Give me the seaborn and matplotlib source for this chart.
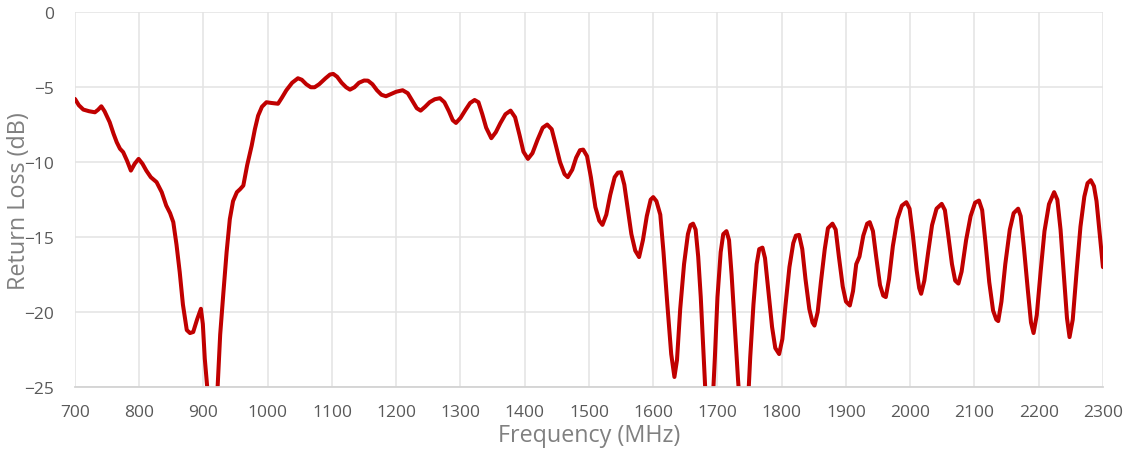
import numpy as np
import pandas as pd
import seaborn as sns
import matplotlib
matplotlib.use('Agg')
import matplotlib.pyplot as plt

# Return loss curve
freq_mhz = [
    700, 706, 713, 722, 731, 736, 741, 746, 754, 760, 765, 770, 775, 781, 787, 793, 799,
    805, 811, 818, 827, 835, 842, 848, 853, 858, 863, 868, 874, 879, 884, 890, 896, 899,
    902, 906, 910, 914, 918, 922, 926, 931, 936, 941, 946, 952, 957, 962, 968, 975, 980,
    985, 991, 998, 1006, 1016, 1022, 1029, 1038, 1047, 1053, 1060, 1067, 1073, 1080, 1090,
    1097, 1102, 1108, 1115, 1122, 1128, 1135, 1142, 1150, 1156, 1163, 1170, 1177, 1184,
    1192, 1200, 1210, 1218, 1225, 1232, 1238, 1245, 1252, 1260, 1268, 1275, 1282, 1288,
    1293, 1300, 1308, 1315, 1322, 1328, 1334, 1340, 1348, 1355, 1362, 1370, 1378, 1385,
    1392, 1398, 1405, 1412, 1420, 1428, 1435, 1442, 1448, 1455, 1462, 1467, 1474, 1480,
    1486, 1491, 1497, 1503, 1510, 1516, 1521, 1527, 1533, 1540, 1545, 1550, 1555, 1560,
    1566, 1572, 1578, 1584, 1590, 1596, 1600, 1605, 1611, 1616, 1622, 1628, 1633, 1637,
    1642, 1648, 1654, 1658, 1662, 1666, 1670, 1674, 1678, 1682, 1687, 1692, 1696, 1700,
    1705, 1709, 1714, 1718, 1722, 1727, 1732, 1737, 1742, 1747, 1751, 1756, 1761, 1765,
    1770, 1774, 1779, 1785, 1790, 1796, 1801, 1806, 1812, 1818, 1822, 1827, 1832, 1837,
    1843, 1848, 1851, 1856, 1861, 1867, 1872, 1879, 1884, 1889, 1895, 1900, 1906, 1911,
    1916, 1921, 1927, 1933, 1937, 1942, 1947, 1953, 1958, 1962, 1967, 1973, 1980, 1987,
    1994, 1999, 2004, 2010, 2014, 2017, 2022, 2028, 2034, 2041, 2049, 2054, 2059, 2065,
    2070, 2075, 2080, 2087, 2094, 2101, 2107, 2112, 2117, 2123, 2129, 2134, 2137, 2142,
    2148, 2155, 2161, 2168, 2172, 2177, 2183, 2188, 2192, 2197, 2203, 2209, 2216, 2224,
    2229, 2234, 2239, 2244, 2248, 2253, 2259, 2265, 2271, 2276, 2281, 2286, 2290, 2295,
    2300,
]
return_loss_db = [
    -5.78, -6.2, -6.49, -6.6, -6.67, -6.5, -6.27, -6.6, -7.33, -8.1, -8.67, -9.1, -9.33,
    -9.9, -10.56, -10.1, -9.78, -10.1, -10.56, -11.0, -11.33, -12.0, -12.89, -13.4, -14.0,
    -15.5, -17.33, -19.5, -21.2, -21.4, -21.33, -20.5, -19.78, -20.8, -23.1, -25.1, -27.0,
    -28.0, -27.0, -25.0, -21.5, -18.7, -16.0, -13.8, -12.6, -12.0, -11.8, -11.56, -10.2,
    -8.9, -7.8, -6.9, -6.3, -6.0, -6.05, -6.1, -5.7, -5.2, -4.7, -4.4, -4.5, -4.8, -5.0,
    -5.0, -4.8, -4.4, -4.15, -4.11, -4.3, -4.7, -5.0, -5.16, -5.0, -4.7, -4.55, -4.56,
    -4.8, -5.2, -5.5, -5.6, -5.45, -5.3, -5.2, -5.4, -5.9, -6.4, -6.56, -6.3, -6.0, -5.8,
    -5.73, -6.0, -6.6, -7.2, -7.38, -7.05, -6.5, -6.05, -5.85, -6.0, -6.8, -7.7, -8.4,
    -8.0, -7.4, -6.8, -6.56, -7.0, -8.2, -9.3, -9.78, -9.4, -8.5, -7.7, -7.49, -7.8, -8.8,
    -10.0, -10.8, -11.0, -10.5, -9.7, -9.2, -9.16, -9.6, -11.0, -13.0, -13.9, -14.18,
    -13.5, -12.2, -11.0, -10.7, -10.67, -11.5, -13.0, -14.8, -15.9, -16.33, -15.2, -13.6,
    -12.5, -12.33, -12.6, -13.5, -16.0, -19.5, -22.8, -24.33, -23.2, -19.8, -16.8, -14.8,
    -14.2, -14.1, -14.5, -16.3, -19.0, -22.5, -26.0, -28.5, -26.5, -23.0, -19.0, -16.0,
    -14.8, -14.6, -15.2, -17.5, -21.0, -24.5, -27.5, -28.0, -26.5, -23.0, -19.5, -16.8,
    -15.8, -15.7, -16.4, -18.5, -21.0, -22.4, -22.8, -21.8, -19.5, -17.0, -15.4, -14.9,
    -14.85, -15.8, -17.8, -19.8, -20.7, -20.9, -20.0, -18.0, -15.8, -14.4, -14.1, -14.5,
    -16.3, -18.3, -19.3, -19.56, -18.6, -16.8, -16.3, -14.9, -14.1, -14.0, -14.6, -16.3,
    -18.2, -18.9, -19.0, -17.8, -15.6, -13.8, -12.9, -12.67, -13.1, -14.8, -17.2, -18.4,
    -18.78, -17.9, -16.0, -14.2, -13.1, -12.78, -13.2, -14.8, -16.8, -17.9, -18.1, -17.3,
    -15.2, -13.6, -12.7, -12.56, -13.2, -15.3, -18.0, -19.9, -20.5, -20.6, -19.3, -16.8,
    -14.5, -13.4, -13.1, -13.6, -15.7, -18.5, -20.7, -21.4, -20.2, -17.3, -14.6, -12.8,
    -12.0, -12.5, -14.5, -17.5, -20.4, -21.67, -20.5, -17.3, -14.3, -12.3, -11.4, -11.2,
    -11.6, -12.6, -14.8, -17.0,
]

x_ticks = list(range(700, 2301, 100))
y_ticks = [0, -5, -10, -15, -20, -25]

df = pd.DataFrame({'freq': freq_mhz, 'rl': return_loss_db})

sns.set_theme(style='white')
plt.rcParams['font.family'] = ['Open Sans', 'DejaVu Sans']

fig = plt.figure(figsize=(11.31, 4.56), dpi=100)
ax = fig.add_axes([0.0663, 0.1491, 0.9089, 0.8217])

grid_col = '#E3E3E3'
ax.set_xticks(x_ticks)
ax.set_yticks(y_ticks)
ax.grid(True, color=grid_col, linewidth=1.1)
ax.set_axisbelow(True)

sns.lineplot(data=df, x='freq', y='rl', color='#C00000', linewidth=2.9,
             estimator=None, ax=ax)

ax.set_xlim(700, 2300)
ax.set_ylim(-25, 0)

for side in ['top', 'right', 'left']:
    ax.spines[side].set_visible(False)
ax.spines['bottom'].set_color('#D3D3D3')
ax.spines['bottom'].set_linewidth(1.3)

ax.tick_params(axis='x', length=0, pad=12, labelsize=12.5, labelcolor='#595959')
ax.tick_params(axis='y', length=0, pad=15, labelsize=12.5, labelcolor='#595959')

ax.set_xlabel('Frequency (MHz)', fontsize=16.8, color='#808080')
ax.set_ylabel('Return Loss (dB)', fontsize=16.8, color='#808080')
ax.xaxis.set_label_coords(0.5, -0.096)
ax.yaxis.set_label_coords(-0.043, 0.5)

fig.savefig('out.png', dpi=100)
